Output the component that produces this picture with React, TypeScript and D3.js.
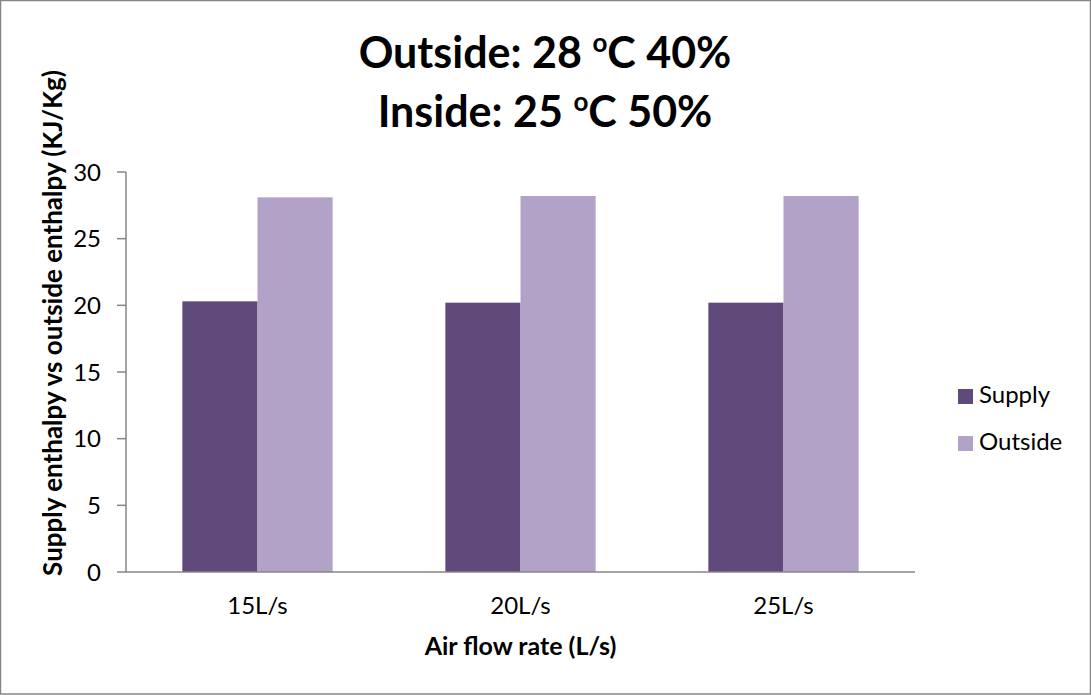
import * as d3 from "d3";

const categories = ["15L/s", "20L/s", "25L/s"];
const seriesNames = ["Supply", "Outside"];
const supplyValues = [20.3, 20.2, 20.2];
const outsideValues = [28.1, 28.2, 28.2];
const yTicks = [0, 5, 10, 15, 20, 25, 30];

const W = 1091;
const H = 695;
const PLOT = { left: 126, right: 915, top: 172, bottom: 572 };
const COLORS = ["#604A7B", "#B3A2C7"];
const AXIS = "#868686";
const FONT = "Lato, Carlito, Calibri, sans-serif";

export default function App() {
  const x = d3.scaleBand<string>().domain(categories).range([PLOT.left, PLOT.right]);
  // excel style: gap width 150% -> two bars + 1.5 bar of gap per category
  const barW = x.bandwidth() / 3.5;
  const xs = d3.scaleBand<string>().domain(seriesNames).range([0, barW * 2]);
  const offset = (x.bandwidth() - barW * 2) / 2;
  const y = d3.scaleLinear().domain([0, 30]).range([PLOT.bottom, PLOT.top]);
  const data = [supplyValues, outsideValues];

  return (
    <div style={{ position: "absolute", left: 0, top: 0 }}>
      <svg width={W} height={H} style={{ display: "block", fontFamily: FONT }}>
        <rect x={0} y={0} width={W} height={H} fill="#fff" />
        <rect x={0.5} y={0.5} width={1090} height={693.5} fill="none" stroke={AXIS} strokeWidth={1.5} />

        {/* title */}
        <text x={545} y={68} textAnchor="middle" fontSize={43} fontWeight={700} fill="#000">
          Outside: 28 <tspan fontSize={26} dy={-16}>o</tspan>
          <tspan fontSize={43} dy={16}>C 40%</tspan>
        </text>
        <text x={545} y={127} textAnchor="middle" fontSize={43} fontWeight={700} fill="#000">
          Inside: 25 <tspan fontSize={26} dy={-16}>o</tspan>
          <tspan fontSize={43} dy={16}>C 50%</tspan>
        </text>

        {/* bars */}
        {seriesNames.map((s, si) =>
          categories.map((c, ci) => (
            <rect
              key={s + c}
              x={(x(c) ?? 0) + offset + (xs(s) ?? 0)}
              y={y(data[si][ci])}
              width={xs.bandwidth()}
              height={y(0) - y(data[si][ci])}
              fill={COLORS[si]}
            />
          ))
        )}

        {/* y axis */}
        <line x1={PLOT.left} x2={PLOT.left} y1={PLOT.top} y2={PLOT.bottom} stroke={AXIS} strokeWidth={1.5} />
        {yTicks.map((t) => (
          <g key={t}>
            <line x1={PLOT.left - 9} x2={PLOT.left} y1={y(t)} y2={y(t)} stroke={AXIS} strokeWidth={1.5} />
            <text x={101} y={y(t)} dy="0.36em" textAnchor="end" fontSize={24} fill="#000">{t}</text>
          </g>
        ))}

        {/* x axis */}
        <line x1={PLOT.left} x2={PLOT.right} y1={PLOT.bottom} y2={PLOT.bottom} stroke={AXIS} strokeWidth={1.5} />
        {categories.map((c) => (
          <text key={c} x={(x(c) ?? 0) + x.bandwidth() / 2} y={614} textAnchor="middle" fontSize={24} fill="#000">{c}</text>
        ))}

        <text x={(PLOT.left + PLOT.right) / 2} y={655} textAnchor="middle" fontSize={25} fontWeight={700} fill="#000">
          Air flow rate (L/s)
        </text>
        <text transform="translate(62,323) rotate(-90)" textAnchor="middle" fontSize={26} fontWeight={700} fill="#000">
          Supply enthalpy vs outside enthalpy (KJ/Kg)
        </text>

        {/* legend */}
        {seriesNames.map((s, i) => (
          <g key={s} transform={`translate(958,${389 + i * 47})`}>
            <rect width={15} height={15} fill={COLORS[i]} />
            <text x={21} y={14} fontSize={24} fill="#000">{s}</text>
          </g>
        ))}
      </svg>
    </div>
  );
}
